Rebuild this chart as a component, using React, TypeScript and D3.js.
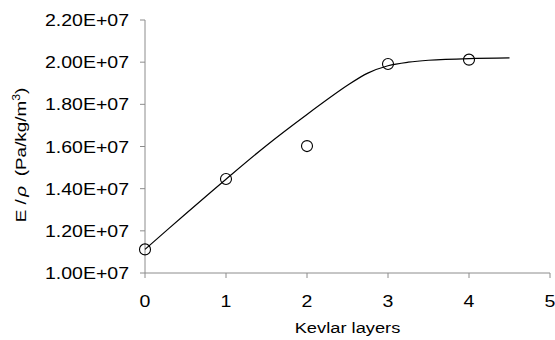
import React from "react";
import * as d3 from "d3";

// measured points
const layers = [0, 1, 2, 3, 4];
const specModulus = [1.112e7, 1.446e7, 1.602e7, 1.991e7, 2.012e7];

// fitted curve
const fitX = [0, 0.5, 1, 1.5, 2, 2.5, 2.75, 3, 3.25, 3.5, 4, 4.5];
const fitY = [1.112e7, 1.28e7, 1.445e7, 1.605e7, 1.752e7, 1.89e7, 1.948e7, 1.983e7, 2.0e7, 2.009e7, 2.017e7, 2.02e7];

const xTicks = [0, 1, 2, 3, 4, 5];
const yTicks = [1.0e7, 1.2e7, 1.4e7, 1.6e7, 1.8e7, 2.0e7, 2.2e7];

const FONT = "'Liberation Sans', Arial, sans-serif";
const AXIS = "#8c8c8c";
const SX = 1.22;

const margin = { top: 20, right: 5, bottom: 67, left: 145 };
const W = 555;
const H = 340;

const fmt = (v: number) => (v / 1e7).toFixed(2) + "E+07";

const Txt = ({ x, y, anchor, size, children, rot = 0 }: any) => (
  <text
    transform={`translate(${x},${y}) rotate(${rot}) scale(${SX},1)`}
    textAnchor={anchor}
    fontSize={size}
    fontFamily={FONT}
    fill="#000"
  >
    {children}
  </text>
);

export default function App() {
  const width = W - margin.left - margin.right;
  const height = H - margin.top - margin.bottom;

  const x = d3.scaleLinear().domain([0, 5]).range([margin.left, margin.left + width]);
  const y = d3.scaleLinear().domain([1.0e7, 2.2e7]).range([margin.top + height, margin.top]);

  const fit = fitX.map((v, i) => [v, fitY[i]] as [number, number]);
  const line = d3
    .line<[number, number]>()
    .x((d) => x(d[0]))
    .y((d) => y(d[1]))
    .curve(d3.curveCatmullRom);

  const y0 = y(1.0e7);

  return (
    <svg width={W} height={H} style={{ position: "absolute", left: 0, top: 0 }}>
      <rect width={W} height={H} fill="#fff" />

      {/* y axis */}
      <line x1={x(0)} x2={x(0)} y1={y(2.2e7)} y2={y0} stroke={AXIS} strokeWidth={1} />
      {yTicks.map((t) => (
        <g key={t}>
          <line x1={x(0) - 5} x2={x(0)} y1={y(t)} y2={y(t)} stroke={AXIS} />
          <Txt x={x(0) - 16} y={y(t) + 6} anchor="end" size={16}>
            {fmt(t)}
          </Txt>
        </g>
      ))}

      {/* x axis */}
      <line x1={x(0)} x2={x(5)} y1={y0} y2={y0} stroke={AXIS} strokeWidth={1} />
      {xTicks.map((t) => (
        <g key={t}>
          <line x1={x(t)} x2={x(t)} y1={y0} y2={y0 + 5} stroke={AXIS} />
          <Txt x={x(t)} y={y0 + 34} anchor="middle" size={16}>
            {t}
          </Txt>
        </g>
      ))}

      <Txt x={(x(0) + x(5)) / 2} y={333} anchor="middle" size={15}>
        Kevlar layers
      </Txt>

      <Txt x={26} y={155} anchor="middle" size={15.5} rot={-90}>
        <tspan>E /</tspan>
        <tspan fontStyle="italic" dx={2}>ρ</tspan>
        <tspan dx={8}>(Pa/kg/m</tspan>
        <tspan fontSize={10} dy={-6}>3</tspan>
        <tspan dy={6}>)</tspan>
      </Txt>

      <path d={line(fit) || ""} fill="none" stroke="#000" strokeWidth={1.2} />

      {layers.map((l, i) => (
        <circle key={l} cx={x(l)} cy={y(specModulus[i])} r={5.5} fill="none" stroke="#000" strokeWidth={1.1} />
      ))}
    </svg>
  );
}
